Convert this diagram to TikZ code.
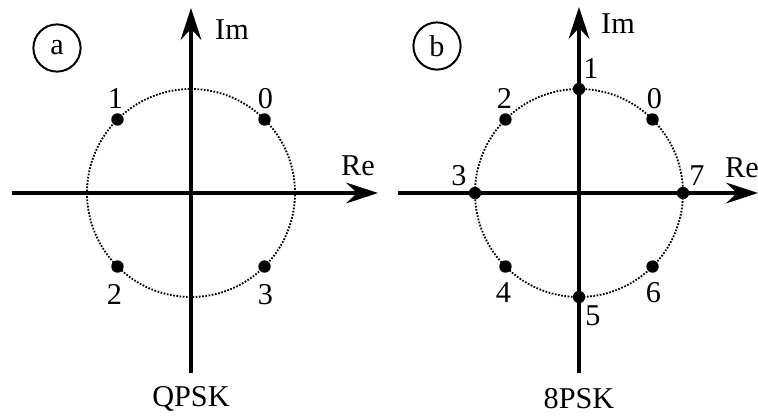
\documentclass[tikz,border=0pt]{standalone}
\usepackage{fontspec}
\setmainfont{Liberation Serif}
\usetikzlibrary{positioning,arrows.meta,calc}

\begin{document}
\begin{tikzpicture}[x=0.025cm,y=0.025cm,
    axis/.style={line width=2.8pt,-{Stealth[length=0.8cm,width=0.52cm,inset=0.28cm]}},
    unit/.style={line width=1.3pt,dash pattern=on 1.2pt off 1.1pt},
    pt/.style={circle,fill=black,inner sep=0pt,minimum size=0.31cm},
    num/.style={inner sep=0pt,font=\fontsize{21.5}{24}\selectfont},
    tag/.style={circle,draw,line width=1.4pt,minimum size=1.18cm,inner sep=0pt,font=\fontsize{21.5}{24}\selectfont}]
  \useasboundingbox (0,0) rectangle (758,417);

  % (a) QPSK
  \coordinate (ao) at (191,224);
  \coordinate (aW) at (12,224);
  \coordinate (aE) at (378,224);
  \coordinate (aS) at (191,44);
  \coordinate (aN) at (191,409);
  \draw[unit] (ao) circle (104);
  \draw[axis] (aW) -- (aE);
  \draw[axis] (aS) -- (aN);
  \node[num] (aIm) at (232,387) {Im};
  \node[num] (aRe) at (358,251) {Re};
  \node[tag] (atag) at (57,369) {a};
  \node[num] (aname) at (191,18) {QPSK};
  \foreach \k/\dx/\dy in {0/1/21, 1/-2/21, 2/-3/-28, 3/1/-28} {
    \node[pt] (a\k) at ($(ao)+(45+90*\k:104)$) {};
    \node[num] (la\k) at ($(a\k)+(\dx,\dy)$) {\k};
  }

  % (b) 8PSK
  \coordinate (bo) at (579,224);
  \coordinate (bW) at (398,224);
  \coordinate (bE) at (758,224);
  \coordinate (bS) at (579,44);
  \coordinate (bN) at (579,410);
  \draw[unit] (bo) circle (104);
  \draw[axis] (bW) -- (bE);
  \draw[axis] (bS) -- (bN);
  \node[num] (bIm) at (618,393) {Im};
  \node[num] (bRe) at (742,249) {Re};
  \node[tag] (btag) at (437,371) {b};
  \node[num] (bname) at (579,18) {8PSK};
  \foreach \k/\dx/\dy in {0/2/21, 1/12/20, 2/-1/21, 3/-16/17, 4/-2/-26, 5/14/-19, 6/1/-26, 7/14/17} {
    \node[pt] (b\k) at ($(bo)+(45+45*\k:104)$) {};
    \node[num] (lb\k) at ($(b\k)+(\dx,\dy)$) {\k};
  }
\end{tikzpicture}
\end{document}
